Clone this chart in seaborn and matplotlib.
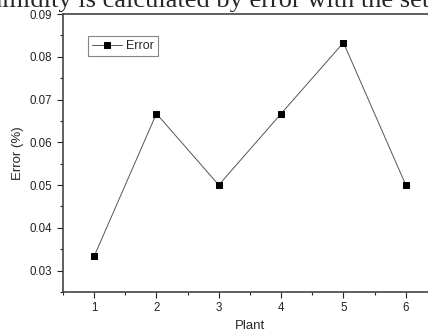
import seaborn as sns
import pandas as pd
import matplotlib.pyplot as plt
from matplotlib.ticker import MultipleLocator

# values
plants = [1, 2, 3, 4, 5, 6]
errors = [0.0333, 0.0667, 0.0500, 0.0667, 0.0833, 0.0500]

sns.set_style("ticks")
plt.rcParams['font.family'] = ['Liberation Sans', 'DejaVu Sans']

df = pd.DataFrame({"Plant": plants, "Error": errors})

fig = plt.figure(figsize=(4.28, 3.34), dpi=100)
ax = fig.add_axes([0.147, 0.126, 0.874, 0.832])

sns.lineplot(data=df, x="Plant", y="Error", ax=ax, color="#555555", linewidth=0.7,
             marker="s", markersize=5, markerfacecolor="black", markeredgecolor="black",
             label="Error")

ax.set_xlim(0.5, 6.5)
ax.set_ylim(0.025, 0.09)
ax.xaxis.set_major_locator(MultipleLocator(1))
ax.xaxis.set_minor_locator(MultipleLocator(0.5))
ax.yaxis.set_major_locator(MultipleLocator(0.01))
ax.yaxis.set_minor_locator(MultipleLocator(0.005))
ax.tick_params(which="major", length=4, width=0.8, labelsize=8.3, colors="#222222")
ax.tick_params(which="minor", length=2.5, width=0.8)
ax.set_yticks([0.03, 0.04, 0.05, 0.06, 0.07, 0.08, 0.09])
ax.set_yticklabels(["0.03", "0.04", "0.05", "0.06", "0.07", "0.08", "0.09"])
ax.set_xlabel("Plant", fontsize=9.5)
ax.set_ylabel("Error (%)", fontsize=9.5)
for s in ["left", "bottom", "top"]:
    ax.spines[s].set_color("#444444")
    ax.spines[s].set_linewidth(1.2)
ax.spines["right"].set_visible(False)

leg = ax.legend(loc="upper left", bbox_to_anchor=(0.05, 0.945), fontsize=9, frameon=True,
                fancybox=False, handlelength=2.4, borderpad=0.35, handletextpad=0.3)
leg.get_frame().set_edgecolor("#666666")
leg.get_frame().set_linewidth(0.8)

# caption fragment from the page above the figure, cut off in the reference
fig.text(1.004, 0.98, "humidity is calculated by error with the set", family="Liberation Serif",
         fontsize=19, va="baseline", ha="right")

fig.savefig("out.png", dpi=100)
